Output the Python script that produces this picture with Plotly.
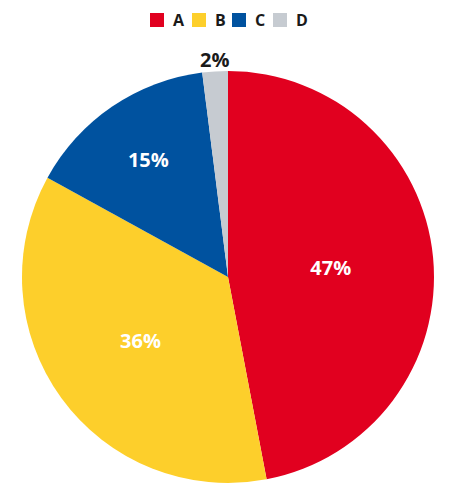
import math
import plotly.graph_objects as go

categories = ["A", "B", "C", "D"]
values = [47, 36, 15, 2]
colors = ["#E1001F", "#FDCF2B", "#00529F", "#C6CBD1"]
text_positions = ["inside", "inside", "inside", "none"]
outside_labels = ["D"]   # small slice labelled just outside the rim

W, H = 455, 491
L, T, D = 14, 63, 412   # page body has an 8px offset
B = H - T - D
R = W - L - D

fig = go.Figure()
fig.add_trace(go.Pie(
    labels=categories,
    values=values,
    sort=False,
    direction="clockwise",
    rotation=0,
    marker=dict(colors=colors, line=dict(width=0)),
    texttemplate="%{value}%",
    textposition=text_positions,
    insidetextorientation="horizontal",
    textfont=dict(family="Open Sans", size=20, weight=700, color="white"),
    showlegend=False,
    hoverinfo="label+percent",
))

# outside label(s) placed at the slice mid-angle, just beyond the rim
total = sum(values)
cum = 0
for cat, v in zip(categories, values):
    mid = (cum + v / 2) / total
    cum += v
    if cat in outside_labels:
        ang = 2 * math.pi * mid
        rr = 0.5 * 1.058
        fig.add_annotation(text=f"{v}%", xref="paper", yref="paper",
                           x=0.5 + rr * math.sin(ang), y=0.5 + rr * math.cos(ang),
                           xanchor="center", yanchor="middle", showarrow=False,
                           font=dict(family="Open Sans", size=20, weight=700, color="#1a1a1a"))

# custom legend built from categories (figure pixel coords -> paper)
def px(x):
    return (x - L) / D

def py(y):
    return (H - B - y) / D

sq = 14
x_starts = [142, 184, 224, 265]
for cat, col, xs in zip(categories, colors, x_starts):
    fig.add_shape(type="rect", xref="paper", yref="paper",
                  x0=px(xs), x1=px(xs + sq), y0=py(5 + sq), y1=py(5),
                  fillcolor=col, line=dict(width=0))
    fig.add_annotation(text=cat, xref="paper", yref="paper",
                       x=px(xs + sq + 7), y=py(12),
                       xanchor="left", yanchor="middle", showarrow=False,
                       font=dict(family="Open Sans", size=16, weight=700, color="#1a1a1a"))

fig.update_layout(
    width=W, height=H,
    margin=dict(l=L, r=R, t=T, b=B),
    paper_bgcolor="white",
    plot_bgcolor="white",
    font=dict(family="Open Sans"),
)

fig.write_html("out.html")
